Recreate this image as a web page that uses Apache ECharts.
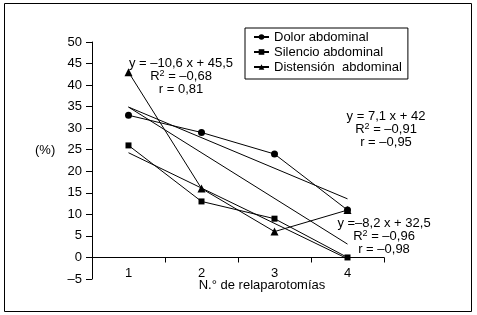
<!DOCTYPE html>
<html>
<head>
<meta charset="utf-8">
<script src="https://cdn.jsdelivr.net/npm/echarts@6/dist/echarts.min.js"></script>
<style>
  html, body { margin: 0; padding: 0; background: #fff; }
  #chart { width: 477px; height: 315px; }
</style>
</head>
<body>
<div id="chart"></div>
<script>
// categories and values
const categories = ['1', '2', '3', '4'];
const dolor = [33, 29, 24, 11];
const silencio = [26, 13, 9, 0];
const distension = [43, 16, 6, 11];

// trend lines, value at category 1 and category 4
const trendDolor = [34.9, 13.6];
const trendSilencio = [24.3, -0.3];
const trendDistension = [34.9, 3.1];

const seriesNames = ['Dolor abdominal', 'Silencio abdominal', 'Distensión  abdominal'];

const FONT = '"Liberation Sans", Arial, sans-serif';

const chart = echarts.init(document.getElementById('chart'));

function trend(values) {
    return {
        type: 'line',
        data: [[0, values[0]], [3, values[1]]],
        symbol: 'none',
        silent: true,
        lineStyle: { color: '#000', width: 1 },
        z: 1
    };
}

function dataLine(name, values, symbol, size) {
    return {
        name: name,
        type: 'line',
        data: values,
        symbol: symbol,
        symbolSize: size,
        itemStyle: { color: '#000' },
        lineStyle: { color: '#000', width: 1 },
        z: 3
    };
}

// b = normal text, s = superscript
const rich = {
    b: { fontSize: 13, lineHeight: 13, fontFamily: FONT, color: '#000' },
    s: { fontSize: 9, lineHeight: 5, verticalAlign: 'top', fontFamily: FONT, color: '#000' }
};

function annotation(x, y, lines) {
    return {
        type: 'text',
        x: x,
        y: y,
        style: {
            text: lines.join('\n'),
            rich: rich,
            align: 'center',
            verticalAlign: 'middle',
            textAlign: 'center',
            textVerticalAlign: 'middle'
        }
    };
}

const option = {
    animation: false,
    backgroundColor: '#fff',
    textStyle: { fontFamily: FONT },
    grid: { left: 92, right: 93, top: 42, bottom: 36, containLabel: false },
    legend: {
        data: seriesNames,
        orient: 'vertical',
        left: 245,
        top: 28,
        itemWidth: 15,
        itemHeight: 7,
        itemGap: 1,
        padding: [2, 6, 5, 8],
        borderColor: '#000',
        borderWidth: 1,
        borderRadius: 0,
        textStyle: { fontSize: 13, color: '#000', fontFamily: FONT, lineHeight: 14 }
    },
    xAxis: {
        type: 'category',
        data: categories,
        boundaryGap: true,
        position: 'bottom',
        // axis sits on the zero line: 5 units of 4.29px above the bottom
        offset: -21.5,
        axisLine: { onZero: false, lineStyle: { color: '#000', width: 1 } },
        axisTick: { show: true, length: 5, interval: 0, lineStyle: { color: '#000' } },
        axisLabel: { fontSize: 13, color: '#000', margin: 9, fontFamily: FONT },
        splitLine: { show: false }
    },
    yAxis: {
        type: 'value',
        min: -5,
        max: 50,
        interval: 5,
        axisLine: { show: true, onZero: false, lineStyle: { color: '#000', width: 1 } },
        axisTick: { show: true, length: 6, lineStyle: { color: '#000' } },
        axisLabel: {
            fontSize: 13, color: '#000', margin: 10, fontFamily: FONT,
            formatter: v => String(v).replace('-', '–')
        },
        splitLine: { show: false }
    },
    graphic: [
        {
            type: 'rect',
            shape: { x: 4.5, y: 3.5, width: 467, height: 308 },
            style: { fill: 'none', stroke: '#000', lineWidth: 1 }
        },
        {
            type: 'text', x: 35, y: 150,
            style: { text: '(%)', font: '13px ' + FONT, fill: '#000', verticalAlign: 'middle', textVerticalAlign: 'middle' }
        },
        {
            type: 'text', x: 262, y: 285,
            style: {
                text: 'N.° de relaparotomías', font: '13px ' + FONT, fill: '#000',
                align: 'center', verticalAlign: 'middle', textAlign: 'center', textVerticalAlign: 'middle'
            }
        },
        annotation(181, 76, ['{b|y = –10,6 x + 45,5}', '{b|R}{s|2}{b| = –0,68}', '{b|r = 0,81}']),
        annotation(386, 129, ['{b|y = 7,1 x + 42}', '{b|R}{s|2}{b| = –0,91}', '{b|r = –0,95}']),
        annotation(384, 236, ['{b|y =–8,2 x + 32,5}', '{b|R}{s|2}{b| = –0,96}', '{b|r = –0,98}'])
    ],
    series: [
        trend(trendDolor),
        trend(trendSilencio),
        trend(trendDistension),
        dataLine(seriesNames[2], distension, 'triangle', 8),
        dataLine(seriesNames[1], silencio, 'rect', 6),
        dataLine(seriesNames[0], dolor, 'circle', 7)
    ]
};

chart.setOption(option);
</script>
</body>
</html>
